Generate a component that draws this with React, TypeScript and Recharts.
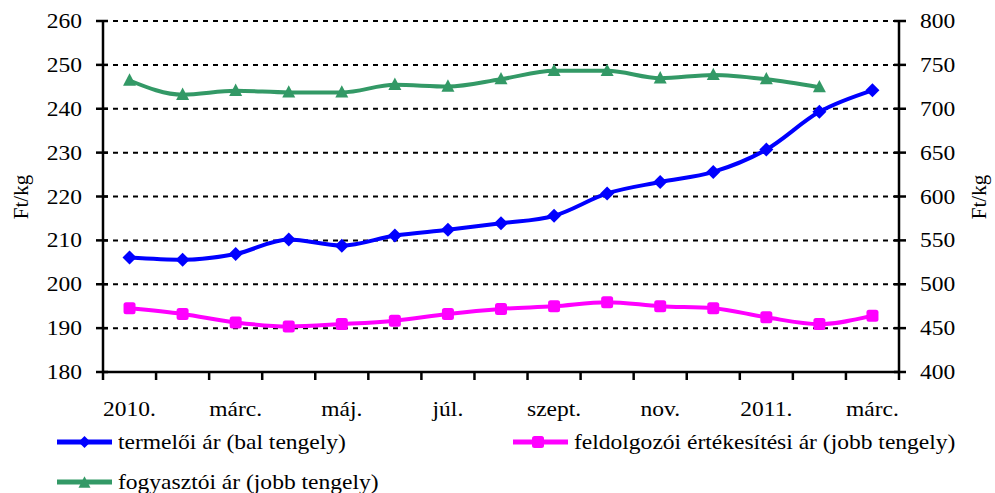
import React from 'react';
import { LineChart, Line, XAxis, YAxis, CartesianGrid, Legend } from 'recharts';

const categories = ['2010. jan.', 'febr.', 'márc.', 'ápr.', 'máj.', 'jún.', 'júl.', 'aug.', 'szept.', 'okt.', 'nov.', 'dec.', '2011. jan.', 'febr.', 'márc.'];
const tickLabels = ['2010.', 'márc.', 'máj.', 'júl.', 'szept.', 'nov.', '2011.', 'márc.'];
const termeloi = [206.1, 205.6, 206.9, 210.2, 208.8, 211.1, 212.4, 213.9, 215.6, 220.7, 223.3, 225.6, 230.7, 239.3, 244.2];
const feldolgozoi = [472.7, 466.2, 456.5, 451.9, 454.6, 458.5, 466.2, 471.9, 475, 479.6, 475, 472.7, 462.3, 454.6, 464.2];
const fogyasztoi: (number | null)[] = [732.2, 716, 720.5, 718.6, 718.6, 727.3, 725.4, 733.7, 743.2, 743.2, 734.8, 738.6, 733.7, 724.6, null];
const leftTicks = [180, 190, 200, 210, 220, 230, 240, 250, 260];
const rightTicks = [400, 450, 500, 550, 600, 650, 700, 750, 800];
const seriesNames = ['termelői ár (bal tengely)', 'feldolgozói értékesítési ár (jobb tengely)', 'fogyasztói ár (jobb tengely)'];

const BLUE = '#0000FF';
const MAGENTA = '#FF00FF';
const GREEN = '#339966';
const FONT = 'Liberation Serif';
const FS = 21;
const SX = 1.12;

const data = categories.map((c, i) => ({
  x: i + 0.5,
  cat: c,
  termeloi: termeloi[i],
  feldolgozoi: feldolgozoi[i],
  fogyasztoi: fogyasztoi[i],
}));

const xTicks: number[] = [];
for (let i = 0; i <= categories.length; i++) {
  xTicks.push(i);
  if (i < categories.length && i % 2 === 0) xTicks.push(i + 0.5);
}

const Diamond = (props: any) => {
  const { cx, cy, size = 7, color = BLUE } = props;
  if (cx == null || cy == null) return null;
  const rx = size, ry = size;
  return <polygon points={`${cx},${cy - ry} ${cx + rx},${cy} ${cx},${cy + ry} ${cx - rx},${cy}`} fill={color} stroke="none" />;
};
const Square = (props: any) => {
  const { cx, cy, size = 12, color = MAGENTA } = props;
  if (cx == null || cy == null) return null;
  return <rect x={cx - size / 2} y={cy - size / 2} width={size} height={size} rx={2.5} fill={color} stroke="none" />;
};
const Triangle = (props: any) => {
  const { cx, cy, size = 13, color = GREEN } = props;
  if (cx == null || cy == null) return null;
  const h = size * 0.95;
  return <polygon points={`${cx},${cy - h / 2 - 1} ${cx + size / 2},${cy + h / 2 - 1} ${cx - size / 2},${cy + h / 2 - 1}`} fill={color} stroke="none" />;
};

const SText = ({ x, y, anchor, children }: any) => (
  <g transform={`translate(${x},${y}) scale(${SX},1)`}>
    <text x={0} y={0} textAnchor={anchor} style={{ fontFamily: FONT, fontSize: FS }} fill="#000">{children}</text>
  </g>
);

const XTick = (props: any) => {
  const { x, y, payload } = props;
  const v = payload.value;
  if (Number.isInteger(v)) {
    return <line x1={x} x2={x} y1={y - 8} y2={y} stroke="#000" strokeWidth={2.5} />;
  }
  const idx = Math.round(v - 0.5) / 2;
  return <SText x={x} y={y + 36} anchor="middle">{tickLabels[idx]}</SText>;
};

const LeftTick = (props: any) => {
  const { x, y, payload } = props;
  return (
    <g>
      <line x1={x + 14} x2={x + 26} y1={y} y2={y} stroke="#000" strokeWidth={2.5} />
      <SText x={x} y={y + 7} anchor="end">{payload.value}</SText>
    </g>
  );
};
const RightTick = (props: any) => {
  const { x, y, payload } = props;
  return (
    <g>
      <line x1={x - 26} x2={x - 14} y1={y} y2={y} stroke="#000" strokeWidth={2.5} />
      <SText x={x} y={y + 7} anchor="start">{payload.value}</SText>
    </g>
  );
};

const AxisTitle = ({ cx, cy }: { cx: number; cy: number }) => (
  <text x={cx} y={cy} transform={`rotate(-90 ${cx} ${cy})`} textAnchor="middle" dominantBaseline="central" style={{ fontFamily: FONT, fontSize: FS }} fill="#000">
    Ft/kg
  </text>
);

const LegendIcon = ({ color, kind }: { color: string; kind: string }) => (
  <svg width={55} height={18} style={{ display: 'block' }}>
    <line x1={0} x2={55} y1={9} y2={9} stroke={color} strokeWidth={5} />
    {kind === 'diamond' && <Diamond cx={27.5} cy={9} size={6} color={color} />}
    {kind === 'square' && <Square cx={25} cy={9} size={12} color={color} />}
    {kind === 'triangle' && <Triangle cx={27.5} cy={10} size={12} color={color} />}
  </svg>
);

const legendItems = [
  { name: seriesNames[0], color: BLUE, kind: 'diamond', left: 57, top: 12 },
  { name: seriesNames[1], color: MAGENTA, kind: 'square', left: 513, top: 12 },
  { name: seriesNames[2], color: GREEN, kind: 'triangle', left: 57, top: 52 },
];

const renderLegend = () => (
  <div style={{ position: 'relative', width: 995, height: 73, fontFamily: FONT, fontSize: FS, color: '#000' }}>
    {legendItems.map((it) => (
      <div key={it.name} style={{ position: 'absolute', left: it.left, top: it.top, display: 'flex', alignItems: 'center', whiteSpace: 'nowrap', lineHeight: '20px', height: 20 }}>
        <LegendIcon color={it.color} kind={it.kind} />
        <span style={{ marginLeft: 6, display: 'inline-block', transform: `scaleX(${SX})`, transformOrigin: 'left center' }}>{it.name}</span>
      </div>
    ))}
  </div>
);

export default function App() {
  return (
    <div style={{ position: 'absolute', left: 0, top: 0, width: 995, height: 493, background: '#fff' }}>
      <LineChart width={995} height={493} data={data} margin={{ top: 21, right: 0, bottom: 0, left: 0 }}>
        <CartesianGrid yAxisId="left" vertical={false} horizontal stroke="#000" strokeWidth={2} strokeDasharray="5 5" horizontalValues={[190, 200, 210, 220, 230, 240, 250, 260]} />
        <XAxis
          dataKey="x"
          type="number"
          domain={[0, categories.length]}
          ticks={xTicks}
          interval={0}
          tick={<XTick />}
          tickLine={false}
          tickSize={8}
          tickMargin={0}
          axisLine={{ stroke: '#000', strokeWidth: 2.5 }}
          height={48}
        />
        <YAxis
          yAxisId="left"
          orientation="left"
          domain={[180, 260]}
          ticks={leftTicks}
          interval={0}
          width={103}
          tickSize={7}
          tickMargin={14}
          tickLine={false}
          tick={<LeftTick />}
          axisLine={{ stroke: '#000', strokeWidth: 2.5 }}
          label={{ content: () => <AxisTitle cx={21} cy={197} /> }}
        />
        <YAxis
          yAxisId="right"
          orientation="right"
          domain={[400, 800]}
          ticks={rightTicks}
          interval={0}
          width={96}
          tickSize={7}
          tickMargin={14}
          tickLine={false}
          tick={<RightTick />}
          axisLine={{ stroke: '#000', strokeWidth: 2.5 }}
          label={{ content: () => <AxisTitle cx={979} cy={197} /> }}
        />
        <Legend verticalAlign="bottom" height={73} content={renderLegend} wrapperStyle={{ left: 0, top: 420, width: 995, height: 73 }} />
        <Line yAxisId="left" type="monotone" dataKey="termeloi" name={seriesNames[0]} stroke={BLUE} strokeWidth={4} dot={<Diamond />} activeDot={false} isAnimationActive={false} />
        <Line yAxisId="right" type="monotone" dataKey="feldolgozoi" name={seriesNames[1]} stroke={MAGENTA} strokeWidth={4} dot={<Square />} activeDot={false} isAnimationActive={false} />
        <Line yAxisId="right" type="monotone" dataKey="fogyasztoi" name={seriesNames[2]} stroke={GREEN} strokeWidth={4} dot={<Triangle />} activeDot={false} isAnimationActive={false} />
      </LineChart>
    </div>
  );
}
